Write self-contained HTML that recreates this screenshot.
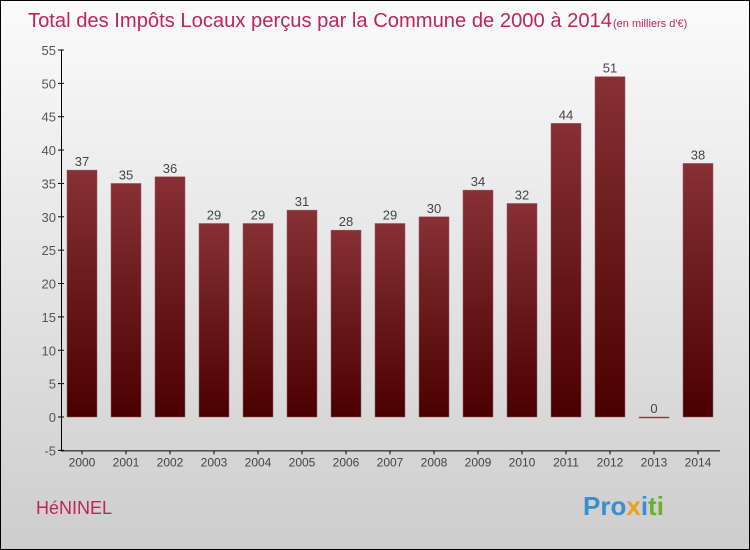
<!DOCTYPE html>
<html><head><meta charset="utf-8"><style>
body{margin:0;width:750px;height:550px;overflow:hidden}
svg{display:block}
</style></head><body>
<svg id="c" width="750" height="550" xmlns="http://www.w3.org/2000/svg">
<defs>
<linearGradient id="bg" x1="0" y1="0" x2="0" y2="1"><stop offset="0" stop-color="#fbfbfb"/><stop offset="1" stop-color="#cdcdcd"/></linearGradient>
<linearGradient id="bar" x1="0" y1="0" x2="0" y2="1"><stop offset="0" stop-color="#873036"/><stop offset="1" stop-color="#4a0000"/></linearGradient>
</defs>
<rect x="0.5" y="0.5" width="749" height="549" fill="url(#bg)" stroke="#000"/>
<text x="28" y="27" font-family="Liberation Sans, sans-serif" font-size="20" textLength="584" lengthAdjust="spacingAndGlyphs" fill="#c0245a">Total des Impôts Locaux perçus par la Commune de 2000 à 2014</text>
<text x="613" y="27" font-family="Liberation Sans, sans-serif" font-size="11" fill="#c0245a">(en milliers d'€)</text>
<g id="axes"></g>
<g id="bars"></g>
<text x="36" y="514" font-family="Liberation Sans, sans-serif" font-size="18" fill="#c0245a">HéNINEL</text>
<text x="583" y="515" font-family="Liberation Sans, sans-serif" font-size="26" font-weight="bold"><tspan fill="#3a8fd0">Pro</tspan><tspan fill="#e8a020">x</tspan><tspan fill="#3a8fd0">i</tspan><tspan fill="#6ab030">ti</tspan></text>
</svg>
<script>
const categories=["2000","2001","2002","2003","2004","2005","2006","2007","2008","2009","2010","2011","2012","2013","2014"];
const values=[37,35,36,29,29,31,28,29,30,34,32,44,51,0,38];
const yTicks=[-5,0,5,10,15,20,25,30,35,40,45,50,55];
const NS="http://www.w3.org/2000/svg";
const y=v=>417-(v*6.673);
const x=i=>82+i*44;
function mk(t,a,p){const e=document.createElementNS(NS,t);for(const k in a)e.setAttribute(k,a[k]);p.appendChild(e);return e;}
const ax=document.getElementById('axes'),bg=document.getElementById('bars');
const yl=mk('line',{x1:61.5,y1:y(55),x2:61.5,y2:y(-5),stroke:'#000'},ax);


const xl=mk('line',{x1:61,y1:y(-5)+0.5,x2:720,y2:y(-5)+0.5,stroke:'#000'},ax);


yTicks.forEach(v=>{
 mk('line',{x1:58,x2:64,y1:y(v),y2:y(v),stroke:'#000'},ax);
 const t=mk('text',{x:56,y:y(v)+5,'text-anchor':'end','font-family':'Liberation Sans, sans-serif','font-size':13,fill:'#555'},ax);
 t.textContent=v;
 
 
});
categories.forEach((c,i)=>{
 mk('line',{x1:x(i),x2:x(i),y1:y(-5),y2:y(-5)+4,stroke:'#000'},ax);
 const t=mk('text',{x:x(i),y:y(-5)+16,'text-anchor':'middle','font-family':'Liberation Sans, sans-serif','font-size':12,fill:'#444'},ax);
 t.textContent=c;
 
 
 const v=values[i];
 const top=y(Math.max(v,0)),h=Math.max(Math.abs(y(0)-y(v)),1);
 const r=mk('rect',{x:x(i)-15,y:top,width:30,height:h,fill:'url(#bar)',stroke:'#9a5a60','stroke-width':0.5},bg);
 
 
 const l=mk('text',{x:x(i),y:top-4,'text-anchor':'middle','font-family':'Liberation Sans, sans-serif','font-size':13,fill:'#444'},bg);
 l.textContent=v;
 
 
});
</script>
</body></html>
